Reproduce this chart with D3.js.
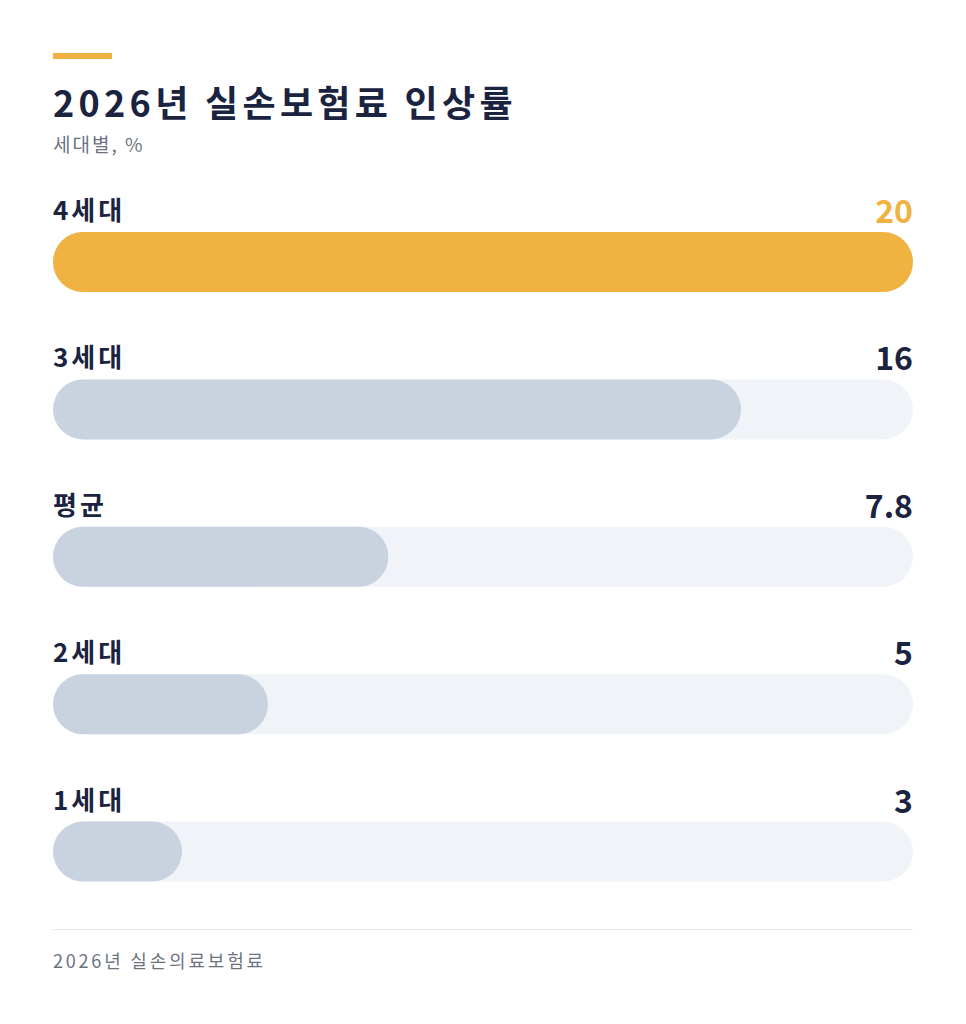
<!DOCTYPE html>
<html><head><meta charset="utf-8">
<script src="https://cdn.jsdelivr.net/npm/d3@7"></script>
<style>body{margin:0;background:#fff}svg{font-family:"Noto Sans CJK KR","Noto Sans",sans-serif}</style>
</head><body>
<svg id="c" width="966" height="1024"></svg>
<script>
const categories = ["4세대", "3세대", "평균", "2세대", "1세대"];
const values = [20, 16, 7.8, 5, 3];
const labels = ["20", "16", "7.8", "5", "3"];
const highlight = "4세대";

const svg = d3.select("#c");
const left = 53, right = 913;

svg.append("rect").attr("x", left).attr("y", 53).attr("width", 59).attr("height", 6).attr("fill", "#f0b240");
svg.append("text").attr("x", left).attr("y", 117).attr("font-size", 36).attr("font-weight", 700)
  .attr("letter-spacing", 4.3).attr("fill", "#1a2340").text("2026년 실손보험료 인상률");
svg.append("text").attr("x", left).attr("y", 152).attr("font-size", 19).attr("letter-spacing", 2)
  .attr("fill", "#6b7280").text("세대별, %");

const x = d3.scaleLinear().domain([0, 20]).range([0, right - left]);
const y = d3.scaleBand().domain(categories).range([185, 922]).paddingInner(0);

const row = svg.selectAll("g.row").data(categories).join("g")
  .attr("transform", d => `translate(${left},${y(d)})`);
const bh = 60;
row.append("rect").attr("y", 47).attr("height", bh).attr("width", right - left)
  .attr("rx", bh / 2).attr("fill", "#f0f3f8");
row.append("rect").attr("y", 47).attr("height", bh).attr("width", (d, i) => x(values[i]))
  .attr("rx", bh / 2).attr("fill", d => d === highlight ? "#f0b240" : "#c9d3e0");
row.append("text").attr("y", 35).attr("font-size", 26).attr("font-weight", 700).attr("letter-spacing", 3)
  .attr("fill", "#1a2340").text(d => d);
row.append("text").attr("x", right - left).attr("y", 38).attr("text-anchor", "end")
  .attr("font-size", 32).attr("font-weight", 700)
  .attr("fill", d => d === highlight ? "#f0b240" : "#1a2340").text((d, i) => labels[i]);

svg.append("line").attr("x1", left).attr("x2", right).attr("y1", 929.5).attr("y2", 929.5).attr("stroke", "#e5e7eb");
svg.append("text").attr("x", left).attr("y", 968).attr("font-size", 18).attr("letter-spacing", 2.8)
  .attr("fill", "#6b7280").text("2026년 실손의료보험료");
</script>
</body></html>
